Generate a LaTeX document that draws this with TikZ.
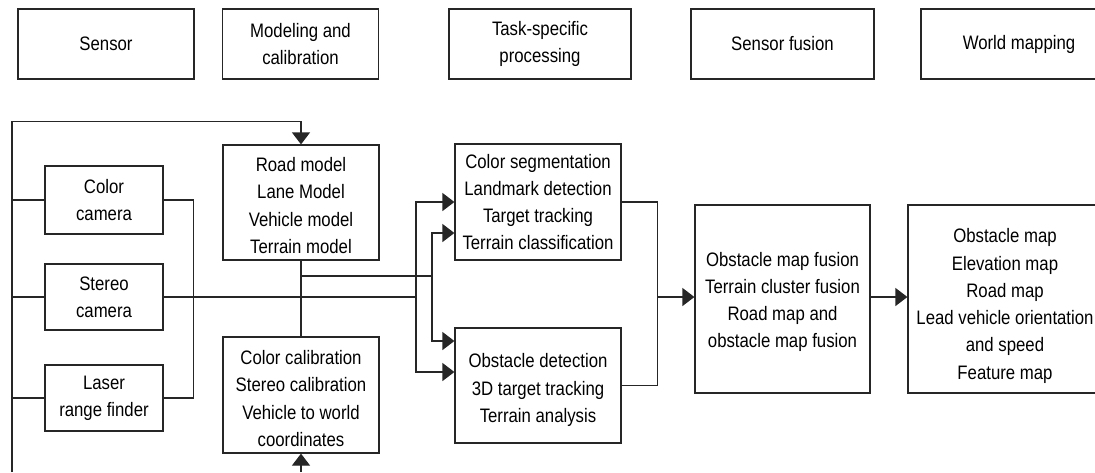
\documentclass[tikz,border=0pt]{standalone}
\usepackage{fontspec}
\setmainfont{Liberation Sans}[FakeStretch=0.86]
\usetikzlibrary{arrows.meta}
\begin{document}
\begin{tikzpicture}[x=1pt,y=-1pt,
  box/.style={draw=black!85, line width=1.2pt, fill=white, inner sep=0pt, align=center,
    font=\fontsize{19.5}{27}\selectfont},
  txt/.style={inner sep=0pt, align=center, font=\fontsize{19.5}{27.3}\selectfont},
  conn/.style={draw=black!85, line width=1.2pt},
  arr/.style={conn, -{Triangle[length=12pt,width=18pt]}}]
\useasboundingbox (0,0) rectangle (1095,472);
% header row
\node[box, minimum width=176pt, minimum height=70pt] (hsensor) at (106,44) {Sensor};
\node[box, minimum width=156pt, minimum height=70pt] (hmodel) at (300.5,44) {Modeling and\\calibration};
\node[box, minimum width=182pt, minimum height=70pt] (htask) at (540,44) {Task-specific\\processing};
\node[box, minimum width=183pt, minimum height=70pt] (hfusion) at (782.5,44) {Sensor fusion};
\node[box, minimum width=196pt, minimum height=70pt] (hworld) at (1019,44) {World mapping};
% sensors
\node[box, minimum width=118pt, minimum height=68pt] (color) at (104,200) {Color\\camera};
\node[box, minimum width=118pt, minimum height=66pt] (stereo) at (104,297) {Stereo\\camera};
\node[box, minimum width=118pt, minimum height=66pt] (laser) at (104,398) {Laser\\range finder};
% models
\node[box, minimum width=156pt, minimum height=115pt] (road) at (301,202.5) {};
\node[txt] (roadtxt) at (301,205.5) {Road model\\Lane Model\\Vehicle model\\Terrain model};
\node[box, minimum width=156pt, minimum height=116pt] (calib) at (301,395) {};
\node[txt] (calibtxt) at (301,398.5) {Color calibration\\Stereo calibration\\Vehicle to world\\coordinates};
% task
\node[box, minimum width=166pt, minimum height=116pt] (uptask) at (538,202) {Color segmentation\\Landmark detection\\Target tracking\\Terrain classification};
\node[box, minimum width=166pt, minimum height=115pt] (lotask) at (538,385.5) {};
\node[txt] (lotasktxt) at (538,390) {Obstacle detection\\3D target tracking\\Terrain analysis};
% fusion and world
\node[box, minimum width=175pt, minimum height=188pt] (fusion) at (782.5,299) {};
\node[txt] (fusiontxt) at (782.5,302) {Obstacle map fusion\\Terrain cluster fusion\\Road map and\\obstacle map fusion};
\node[box, minimum width=194pt, minimum height=188pt] (world) at (1005,299) {};
\node[txt] (worldtxt) at (1005,306) {Obstacle map\\Elevation map\\Road map\\Lead vehicle orientation\\and speed\\Feature map};
% coordinates
\coordinate (fbl) at (12,472);
\coordinate (fbb) at (301,472);
\coordinate (j0) at (301,276);
\coordinate (j1) at (416,297);
\coordinate (j2) at (432,276);
\coordinate (j3) at (657,297);
% feedback loop
\draw[arr] (fbl) |- ([yshift=23pt]road.north) -- (road.north);
\draw[arr] (fbb) -- (calib.south);
% sensor left bus
\draw[conn] (color.west) -- ++(-33,0);
\draw[conn] (stereo.west) -- ++(-33,0);
\draw[conn] (laser.west) -- ++(-33,0);
% sensor right bus
\draw[conn] (color.east) -- ++(30,0) |- (laser.east);
\draw[conn] (stereo.east) -- (j1);
% models link
\draw[conn] (road.south) -- (calib.north);
\draw[conn] (j0) -- (j2);
% into task boxes
\draw[arr] (j1) |- (uptask.west);
\draw[arr] (j1) |- ([yshift=13.5pt]lotask.west);
\draw[arr] (j2) |- ([yshift=-31pt]uptask.west);
\draw[arr] (j2) |- ([yshift=44.5pt]lotask.west);
% task outputs
\draw[conn] (uptask.east) -- ++(36,0) |- (lotask.east);
\draw[arr] (j3) -- (fusion.west |- j3);
\draw[arr] (fusion.east |- j3) -- (world.west |- j3);
\end{tikzpicture}
\end{document}
